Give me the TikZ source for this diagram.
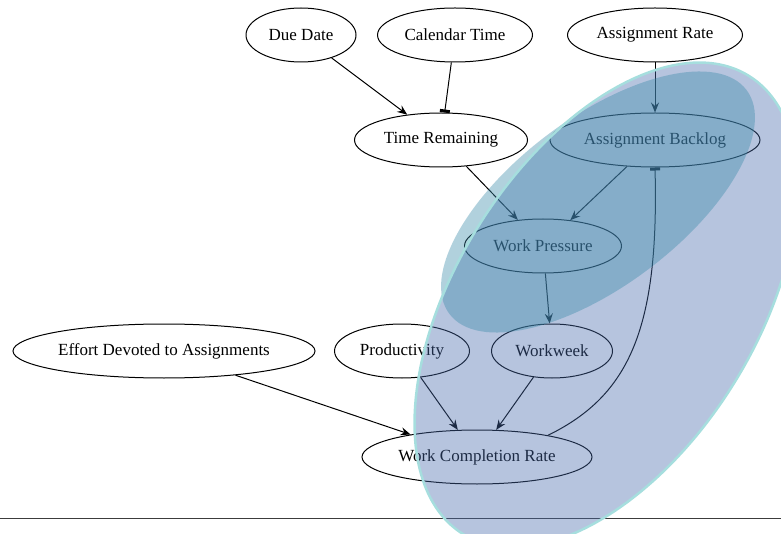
\documentclass[tikz,border=0pt]{standalone}
\usepackage{fontspec}
\setmainfont{Liberation Serif}
\usetikzlibrary{shapes.geometric, arrows.meta}
\definecolor{loopblue}{RGB}{72,107,172}
\definecolor{coreteal}{RGB}{60,140,170}
\definecolor{loopedge}{RGB}{166,222,222}
\definecolor{rulegray}{RGB}{60,60,60}

\begin{document}
\begin{tikzpicture}[
  x=1pt, y=-1pt,
  font=\fontsize{17}{20}\selectfont,
  >={Stealth[length=10pt, width=8pt, inset=3.5pt]},
  var/.style={ellipse, draw, line width=1pt, inner sep=0pt, minimum height=54pt},
  link/.style={->, line width=1pt},
  damp/.style={-{Rectangle[length=3pt, width=10pt]}, line width=1pt},
  loopzone/.style={fill=loopblue, fill opacity=0.4},
  corezone/.style={fill=coreteal, fill opacity=0.4},
]
\useasboundingbox (0,0) rectangle (781,534);

% ---- geometry (row centres, pixels from the top) ----
\def\rowa{35}
\def\rowb{140}
\def\rowc{246}
\def\rowd{351}
\def\rowe{457}

% =====================================================
% VARIABLES
% =====================================================
\node[var, minimum width=110pt] (due)      at (301,\rowa) {Due Date};
\node[var, minimum width=155pt] (cal)      at (455,\rowa) {Calendar Time};
\node[var, minimum width=175pt] (rate)     at (655,\rowa) {Assignment Rate};
\node[var, minimum width=173pt] (remain)   at (441,\rowb) {Time Remaining};
\node[var, minimum width=210pt] (backlog)  at (655,\rowb) {Assignment Backlog};
\node[var, minimum width=157pt] (pressure) at (543,\rowc) {Work Pressure};
\node[var, minimum width=302pt] (effort)   at (164,\rowd) {Effort Devoted to Assignments};
\node[var, minimum width=135pt] (prod)     at (402,\rowd) {Productivity};
\node[var, minimum width=121pt] (week)     at (552,\rowd) {Workweek};
\node[var, minimum width=230pt] (wcr)      at (477,\rowe) {Work Completion Rate};

% =====================================================
% LINKS
% =====================================================
\draw[link] (due) -- (remain);
\draw[damp] (cal) -- (remain);
\draw[link] (rate) -- (backlog);
\draw[link] (remain) -- (pressure);
\draw[link] (backlog) -- (pressure);
\draw[link] (pressure) -- (week);
\draw[link] (effort) -- (wcr);
\draw[link] (prod) -- (wcr);
\draw[link] (week) -- (wcr);
% feedback from completion back into the backlog
\draw[damp] (wcr.17) .. controls +(82,-40) and +(4,160) .. (backlog.south);

% baseline rule
\draw[rulegray, line width=1pt] (0,518) -- (781,518);

% =====================================================
% LOOP HIGHLIGHTS (translucent, laid over the graph)
% =====================================================
\begin{scope}
  \clip (0,0) rectangle (781,534);
  \fill[loopzone, rotate around={58:(606,305)}] (606,305) ellipse [x radius=270, y radius=150];
  \fill[corezone, rotate around={37:(598,202)}] (598,202) ellipse [x radius=186, y radius=84];
  \draw[loopedge, line width=2.5pt, rotate around={58:(606,305)}] (606,305) ellipse [x radius=270, y radius=150];
\end{scope}

\end{tikzpicture}
\end{document}
